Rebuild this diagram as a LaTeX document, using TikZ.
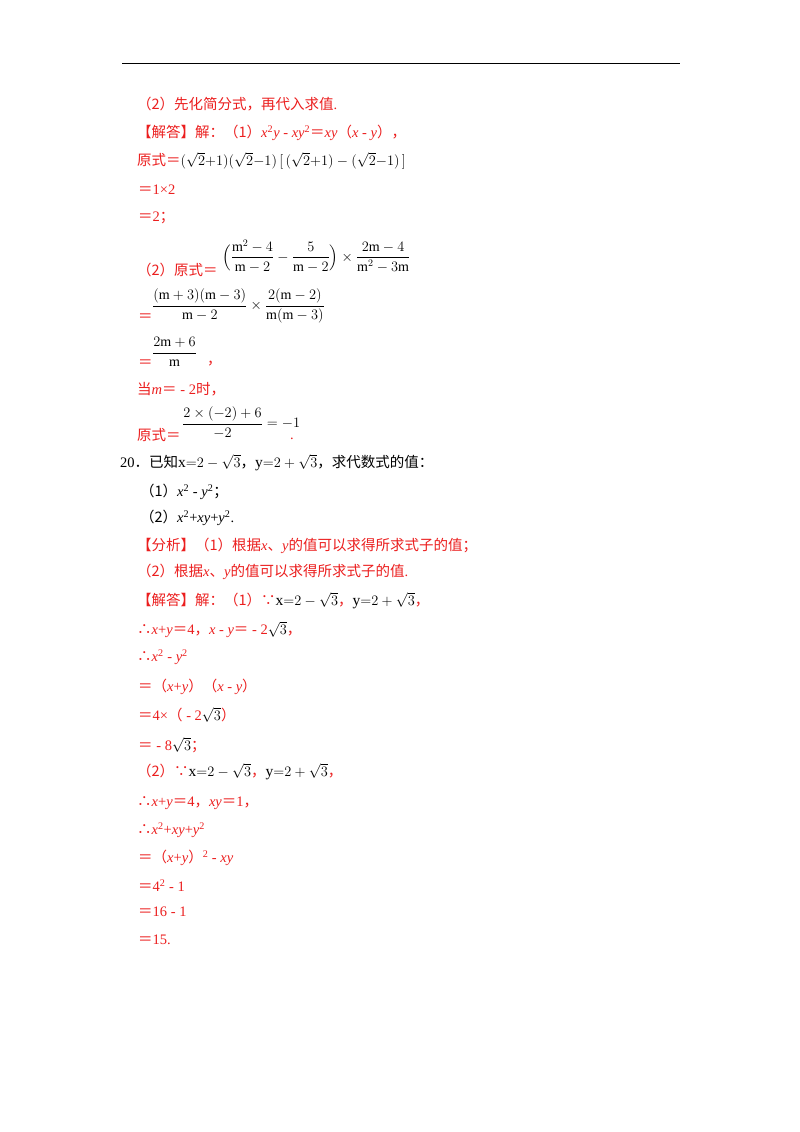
\documentclass[tikz,border=0pt]{standalone}
\usepackage{amsmath}
\usepackage{fontspec}
\setmainfont{Liberation Serif}
\newfontfamily\cjk{Noto Sans CJK SC}
\definecolor{rd}{RGB}{235,30,30}
\newcommand{\C}[1]{{\cjk #1}}
\newcommand{\V}[1]{\textit{#1}}
\newcommand{\sq}{\textsuperscript{2}}
\begin{document}
\begin{tikzpicture}[x=1pt,y=-1pt,
  t/.style={anchor=west,inner sep=0pt,font=\fontsize{14.5}{17}\selectfont},
  f/.style={t,font=\fontsize{14}{16}\selectfont},
  r/.style={t,text=rd}]
\useasboundingbox (0,0) rectangle (800,1132);
\draw[line width=0.8pt] (122,63) coordinate (ra) -- (680,63) coordinate (rb);
\node[r] (a1) at (137,104) {\C{（2）先化简分式，再代入求值}.};
\node[r] (a2) at (137,133) {\C{【解答】解：（1）}\V{x}\sq\V{y} - \V{xy}\sq\C{＝}\V{xy}\C{（}\V{x} - \V{y}\C{），}};
\node[r] (a3) at (137,161) {\C{原式＝}\textcolor{black}{\fontsize{15.5}{19}\selectfont$(\sqrt2{+}1)(\sqrt2{-}1)\,[\,(\sqrt2{+}1)-(\sqrt2{-}1)\,]$}};
\node[r] (a4) at (138,190) {\C{＝}1×2};
\node[r] (a5) at (138,218) {\C{＝}2\C{；}};
\node[r] (a6) at (137,270) {\C{（2）原式＝}};
\node[f] (a6f) at (222,256) {$\Bigl(\dfrac{\mathrm{m}^2-4}{\mathrm{m}-2}-\dfrac{5}{\mathrm{m}-2}\Bigr)\times\dfrac{2\mathrm{m}-4}{\mathrm{m}^2-3\mathrm{m}}$};
\node[r] (a7) at (138,318) {\C{＝}};
\node[f] (a7f) at (152,306) {$\dfrac{(\mathrm{m}+3)(\mathrm{m}-3)}{\mathrm{m}-2}\times\dfrac{2(\mathrm{m}-2)}{\mathrm{m}(\mathrm{m}-3)}$};
\node[r] (a8) at (138,364) {\C{＝}};
\node[f] (a8f) at (152,352) {$\dfrac{2\mathrm{m}+6}{\mathrm{m}}$};
\node[r] (a8c) at (207,364) {\C{，}};
\node[r] (a9) at (137,389) {\C{当}\V{m}\C{＝} - 2\C{时，}};
\node[r] (a10) at (137,435) {\C{原式＝}};
\node[t,font=\fontsize{15.5}{18}\selectfont] (a10f) at (182,423) {$\dfrac{2\times(-2)+6}{-2}=-1$};
\node[r] (a10d) at (290,439) {.};
\node[t] (b1) at (120,463) {20\C{．已知}{\fontsize{15.5}{19}\selectfont$\mathrm{x}{=}2-\sqrt3$}\C{，}{\fontsize{15.5}{19}\selectfont$\mathrm{y}{=}2+\sqrt3$}\C{，求代数式的值：}};
\node[t] (b2) at (140,492) {\C{（1）}\V{x}\sq{} - \V{y}\sq\C{；}};
\node[t] (b3) at (140,518) {\C{（2）}\V{x}\sq+\V{xy}+\V{y}\sq.};
\node[r] (b4) at (137,546) {\C{【分析】（1）根据}\V{x}\C{、}\V{y}\C{的值可以求得所求式子的值；}};
\node[r] (b5) at (137,572) {\C{（2）根据}\V{x}\C{、}\V{y}\C{的值可以求得所求式子的值}.};
\node[r] (b6) at (137,601) {\C{【解答】解：（1）∵}\textcolor{black}{\fontsize{15.5}{19}\selectfont$\mathrm{x}{=}2-\sqrt3$}\C{，}\textcolor{black}{\fontsize{15.5}{19}\selectfont$\mathrm{y}{=}2+\sqrt3$}\C{，}};
\node[r] (b7) at (137,630) {\C{∴}\V{x}+\V{y}\C{＝}4\C{，}\V{x} - \V{y}\C{＝} - 2\textcolor{black}{\fontsize{15.5}{19}\selectfont$\sqrt3$}\C{，}};
\node[r] (b8) at (137,657) {\C{∴}\V{x}\sq{} - \V{y}\sq};
\node[r] (b9) at (138,687) {\C{＝（}\V{x}+\V{y}\C{）（}\V{x} - \V{y}\C{）}};
\node[r] (b10) at (138,715) {\C{＝}4×\C{（} - 2\textcolor{black}{\fontsize{15.5}{19}\selectfont$\sqrt3$}\C{）}};
\node[r] (b11) at (138,745) {\C{＝} - 8\textcolor{black}{\fontsize{15.5}{19}\selectfont$\sqrt3$}\C{；}};
\node[r] (b12) at (137,772) {\C{（2）∵}\textcolor{black}{\fontsize{15.5}{19}\selectfont$\mathrm{x}{=}2-\sqrt3$}\C{，}\textcolor{black}{\fontsize{15.5}{19}\selectfont$\mathrm{y}{=}2+\sqrt3$}\C{，}};
\node[r] (b13) at (137,803) {\C{∴}\V{x}+\V{y}\C{＝}4\C{，}\V{xy}\C{＝}1\C{，}};
\node[r] (b14) at (137,830) {\C{∴}\V{x}\sq+\V{xy}+\V{y}\sq};
\node[r] (b15) at (138,858) {\C{＝（}\V{x}+\V{y}\C{）}\sq{} - \V{xy}};
\node[r] (b16) at (138,886) {\C{＝}4\sq{} - 1};
\node[r] (b17) at (138,912) {\C{＝}16 - 1};
\node[r] (b18) at (138,940) {\C{＝}15.};
\end{tikzpicture}
\end{document}
